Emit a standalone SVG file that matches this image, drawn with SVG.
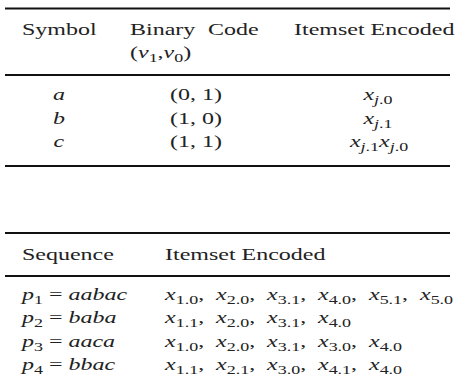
<svg xmlns="http://www.w3.org/2000/svg" width="464" height="388" viewBox="0 0 464 388">
<style>
text{font-family:"Liberation Serif","DejaVu Serif",serif;font-size:16px;fill:#222}
.i{font-style:italic}
.s{font-size:12px}
.m{text-anchor:middle}
.rule{stroke:#111;stroke-width:2}
</style>
<rect width="464" height="388" fill="#fff"/>
<g id="rules">
<line class="rule" x1="5" y1="8.5" x2="450" y2="8.5"/>
<line class="rule" x1="5" y1="75" x2="450" y2="75"/>
<line class="rule" x1="5" y1="166" x2="450" y2="166"/>
<line class="rule" x1="5" y1="233" x2="450" y2="233"/>
<line class="rule" x1="5" y1="276" x2="450" y2="276"/>
</g>
<g id="table1" transform="scale(1.5,1)">
<text x="14.67" y="35.5">Symbol</text>
<text x="86.67" y="35.5">Binary</text>
<text x="138.7" y="35.5">Code</text>
<text x="196" y="35.5">Itemset Encoded</text>
<text x="86.67" y="58">(<tspan class="i">v</tspan><tspan class="s" dy="4">1</tspan><tspan dy="-4">,</tspan><tspan class="i">v</tspan><tspan class="s" dy="4">0</tspan><tspan dy="-4">)</tspan></text>
<text class="m i" x="39.3" y="100.5">a</text>
<text class="m i" x="39.3" y="124">b</text>
<text class="m i" x="39.3" y="147.5">c</text>
<text class="m" x="130.7" y="100.5">(0, 1)</text>
<text class="m" x="130.7" y="124">(1, 0)</text>
<text class="m" x="130.7" y="147.5">(1, 1)</text>
<text class="m" x="252" y="100.5"><tspan class="i">x</tspan><tspan class="s i" dy="4">j</tspan><tspan class="s">.0</tspan></text>
<text class="m" x="252" y="124"><tspan class="i">x</tspan><tspan class="s i" dy="4">j</tspan><tspan class="s">.1</tspan></text>
<text class="m" x="252.7" y="147.5"><tspan class="i">x</tspan><tspan class="s i" dy="4">j</tspan><tspan class="s">.1</tspan><tspan class="i" dy="-4">x</tspan><tspan class="s i" dy="4">j</tspan><tspan class="s">.0</tspan></text>
</g>
<g id="table2" transform="scale(1.5,1)">
<text x="14.67" y="260">Sequence</text>
<text x="110" y="260">Itemset Encoded</text>
<text x="14.67" y="300"><tspan class="i">p</tspan><tspan class="s" dy="4">1</tspan><tspan dy="-4"> = </tspan><tspan class="i">aabac</tspan></text>
<text x="14.67" y="323.5"><tspan class="i">p</tspan><tspan class="s" dy="4">2</tspan><tspan dy="-4"> = </tspan><tspan class="i">baba</tspan></text>
<text x="14.67" y="347"><tspan class="i">p</tspan><tspan class="s" dy="4">3</tspan><tspan dy="-4"> = </tspan><tspan class="i">aaca</tspan></text>
<text x="14.67" y="370.5"><tspan class="i">p</tspan><tspan class="s" dy="4">4</tspan><tspan dy="-4"> = </tspan><tspan class="i">bbac</tspan></text>

<text y="300"><tspan x="110" class="i">x</tspan><tspan class="s" dy="4">1.0</tspan><tspan dy="-4">,</tspan><tspan x="144" class="i">x</tspan><tspan class="s" dy="4">2.0</tspan><tspan dy="-4">,</tspan><tspan x="178" class="i">x</tspan><tspan class="s" dy="4">3.1</tspan><tspan dy="-4">,</tspan><tspan x="212" class="i">x</tspan><tspan class="s" dy="4">4.0</tspan><tspan dy="-4">,</tspan><tspan x="246" class="i">x</tspan><tspan class="s" dy="4">5.1</tspan><tspan dy="-4">,</tspan><tspan x="280" class="i">x</tspan><tspan class="s" dy="4">5.0</tspan></text>
<text y="323.5"><tspan x="110" class="i">x</tspan><tspan class="s" dy="4">1.1</tspan><tspan dy="-4">,</tspan><tspan x="144" class="i">x</tspan><tspan class="s" dy="4">2.0</tspan><tspan dy="-4">,</tspan><tspan x="178" class="i">x</tspan><tspan class="s" dy="4">3.1</tspan><tspan dy="-4">,</tspan><tspan x="212" class="i">x</tspan><tspan class="s" dy="4">4.0</tspan></text>
<text y="347"><tspan x="110" class="i">x</tspan><tspan class="s" dy="4">1.0</tspan><tspan dy="-4">,</tspan><tspan x="144" class="i">x</tspan><tspan class="s" dy="4">2.0</tspan><tspan dy="-4">,</tspan><tspan x="178" class="i">x</tspan><tspan class="s" dy="4">3.1</tspan><tspan dy="-4">,</tspan><tspan x="212" class="i">x</tspan><tspan class="s" dy="4">3.0</tspan><tspan dy="-4">,</tspan><tspan x="246" class="i">x</tspan><tspan class="s" dy="4">4.0</tspan></text>
<text y="370.5"><tspan x="110" class="i">x</tspan><tspan class="s" dy="4">1.1</tspan><tspan dy="-4">,</tspan><tspan x="144" class="i">x</tspan><tspan class="s" dy="4">2.1</tspan><tspan dy="-4">,</tspan><tspan x="178" class="i">x</tspan><tspan class="s" dy="4">3.0</tspan><tspan dy="-4">,</tspan><tspan x="212" class="i">x</tspan><tspan class="s" dy="4">4.1</tspan><tspan dy="-4">,</tspan><tspan x="246" class="i">x</tspan><tspan class="s" dy="4">4.0</tspan></text>
</g>
</svg>
